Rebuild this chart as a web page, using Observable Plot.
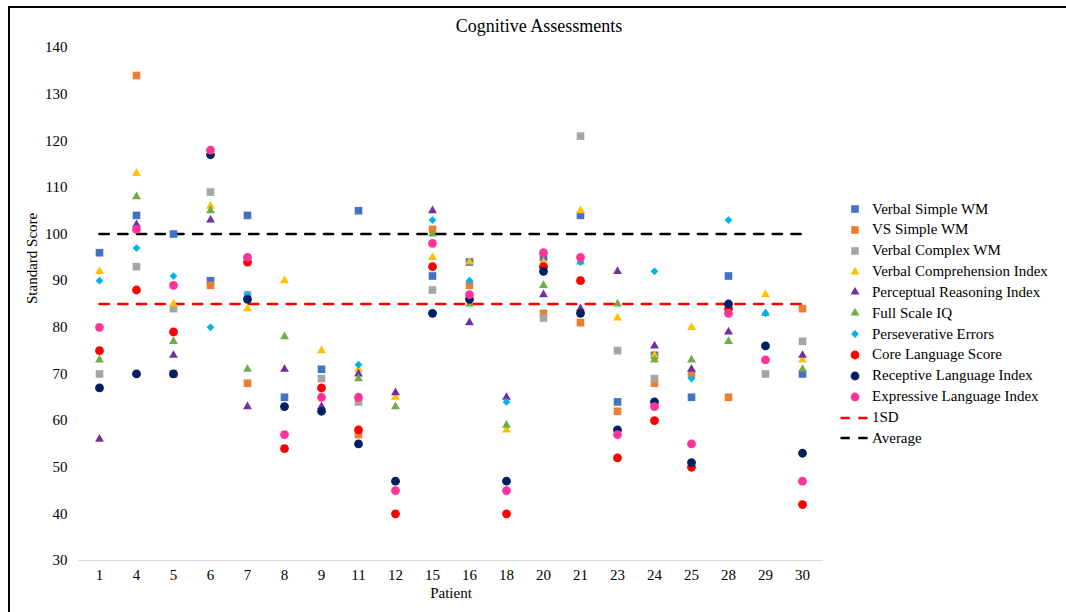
<!DOCTYPE html>
<html><head><meta charset="utf-8">
<script src="https://cdn.jsdelivr.net/npm/d3@7"></script>
<script src="https://cdn.jsdelivr.net/npm/@observablehq/plot@0.6"></script>
<style>
body{margin:0;background:#fff;}
#wrap{position:relative;width:1066px;height:612px;overflow:hidden;font-family:"Liberation Serif","Times New Roman",serif;color:#000;}
#frame{position:absolute;left:8px;top:6px;width:1100px;height:700px;border-top:2px solid #000;border-left:2px solid #000;}
#title{position:absolute;top:17px;left:539px;transform:translateX(-50%);font-size:18px;line-height:18px;white-space:nowrap;}
#chart{position:absolute;left:0;top:0;}
.lg{position:absolute;left:838px;height:20px;display:flex;align-items:center;font-size:15px;white-space:nowrap;}
.lg svg{display:block;width:34px;height:20px;}
</style></head>
<body>
<div id="wrap">
  <div id="chart"></div>
  <div id="frame"></div>
  <div id="title">Cognitive Assessments</div>
  <div id="legend"></div>
</div>
<script>
const patients = ["1","4","5","6","7","8","9","11","12","15","16","18","20","21","23","24","25","28","29","30"];
const yTicks = [30,40,50,60,70,80,90,100,110,120,130,140];

const verbalSimpleWM   = [96,104,100,90,104,65,71,105,null,91,94,null,95,104,64,74,65,91,null,70];
const vsSimpleWM       = [null,134,70,89,68,null,null,57,null,101,89,null,83,81,62,68,70,65,null,84];
const verbalComplexWM  = [70,93,84,109,87,null,69,64,null,88,null,null,82,121,75,69,null,null,70,77];
const verbalCompIndex  = [92,113,85,106,84,90,75,71,65,95,94,58,94,105,82,74,80,null,87,73];
const perceptualIndex  = [56,102,74,103,63,71,63,70,66,105,81,65,87,84,92,76,71,79,null,74];
const fullScaleIQ      = [73,108,77,105,71,78,null,69,63,100,85,59,89,94,85,73,73,77,83,71];
const persevErrors     = [90,97,91,80,87,null,null,72,null,103,90,64,null,94,null,92,69,103,83,null];
const coreLanguage     = [75,88,79,null,94,54,67,58,40,93,null,40,93,90,52,60,50,84,null,42];
const receptiveIndex   = [67,70,70,117,86,63,62,55,47,83,86,47,92,83,58,64,51,85,76,53];
const expressiveIndex  = [80,101,89,118,95,57,65,65,45,98,87,45,96,95,57,63,55,83,73,47];

const averageValue = 100;
const sdValue = 85;

const seriesNames = ["Verbal Simple WM","VS Simple WM","Verbal Complex WM","Verbal Comprehension Index","Perceptual Reasoning Index","Full Scale IQ","Perseverative Errors","Core Language Score","Receptive Language Index","Expressive Language Index"];
const seriesColors = ["#4472C4","#ED7D31","#A5A5A5","#FFC000","#7030A0","#70AD47","#00B0F0","#FF0000","#002060","#FF3399"];
const seriesShapes = ["square","square","square","triangle","triangle","triangle","diamond","circle","circle","circle"];
const seriesValues = [verbalSimpleWM,vsSimpleWM,verbalComplexWM,verbalCompIndex,perceptualIndex,fullScaleIQ,persevErrors,coreLanguage,receptiveIndex,expressiveIndex];

const rhombus = {draw(ctx, size){const s=Math.sqrt(size/2);ctx.moveTo(0,-s);ctx.lineTo(s,0);ctx.lineTo(0,s);ctx.lineTo(-s,0);ctx.closePath();}};
const shapeSymbol = {square: d3.symbolSquare, triangle: d3.symbolTriangle, diamond: rhombus, circle: d3.symbolCircle};
const shapeR = {square: 4.3, triangle: 3.3, diamond: 3.1, circle: 4.4};

const dotMarks = seriesNames.map((name, i) => Plot.dot(
  patients.map((p, j) => ({patient: p, value: seriesValues[i][j]})).filter(d => d.value != null),
  {x: "patient", y: "value", fill: seriesColors[i], symbol: shapeSymbol[seriesShapes[i]], r: shapeR[seriesShapes[i]]}
));

const chart = Plot.plot({
  width: 1066, height: 612,
  marginLeft: 78, marginRight: 243, marginTop: 47, marginBottom: 52,
  style: {fontFamily: "'Liberation Serif','Times New Roman',serif", fontSize: "15px", color: "#000", background: "transparent", overflow: "visible"},
  x: {type: "point", domain: patients, padding: 0.5, label: "Patient", labelAnchor: "center", tickSize: 0, tickPadding: 9, labelOffset: 37},
  y: {domain: [30, 140], ticks: yTicks, tickSize: 0, tickPadding: 11, label: null},
  marks: [
    Plot.ruleY([30], {stroke: "#d9d9d9", strokeWidth: 1}),
    Plot.line(patients, {x: d => d, y: () => sdValue, stroke: "#FF0000", strokeWidth: 2.5, strokeDasharray: "9.3,9.4"}),
    Plot.line(patients, {x: d => d, y: () => averageValue, stroke: "#000", strokeWidth: 2.5, strokeDasharray: "9.3,9.4"}),
    Plot.text(["Standard Score"], {frameAnchor: "left", rotate: -90, dx: -46, fontSize: 15, fill: "#000"}),
    ...dotMarks
  ]
});
document.getElementById("chart").appendChild(chart);

// legend
const legend = d3.select("#legend");
const rowTop = 199, rowStep = 20.85;
seriesNames.forEach((name, i) => {
  const row = legend.append("div").attr("class", "lg").style("top", (rowTop + i * rowStep) + "px");
  const svg = row.append("svg");
  const shape = seriesShapes[i];
  const r = shapeR[shape];
  svg.append("path").attr("transform", "translate(17,10)")
    .attr("d", d3.symbol(shapeSymbol[shape], Math.PI * r * r)()).attr("fill", seriesColors[i]);
  row.append("span").text(name);
});
[["1SD", "#FF0000"], ["Average", "#000"]].forEach(([name, color], k) => {
  const row = legend.append("div").attr("class", "lg").style("top", (rowTop + (10 + k) * rowStep) + "px");
  const svg = row.append("svg");
  svg.append("line").attr("x1", 2.5).attr("x2", 30).attr("y1", 10).attr("y2", 10)
    .attr("stroke", color).attr("stroke-width", 2.5).attr("stroke-dasharray", "9.3,8.5");
  row.append("span").text(name);
});
</script>
</body></html>
